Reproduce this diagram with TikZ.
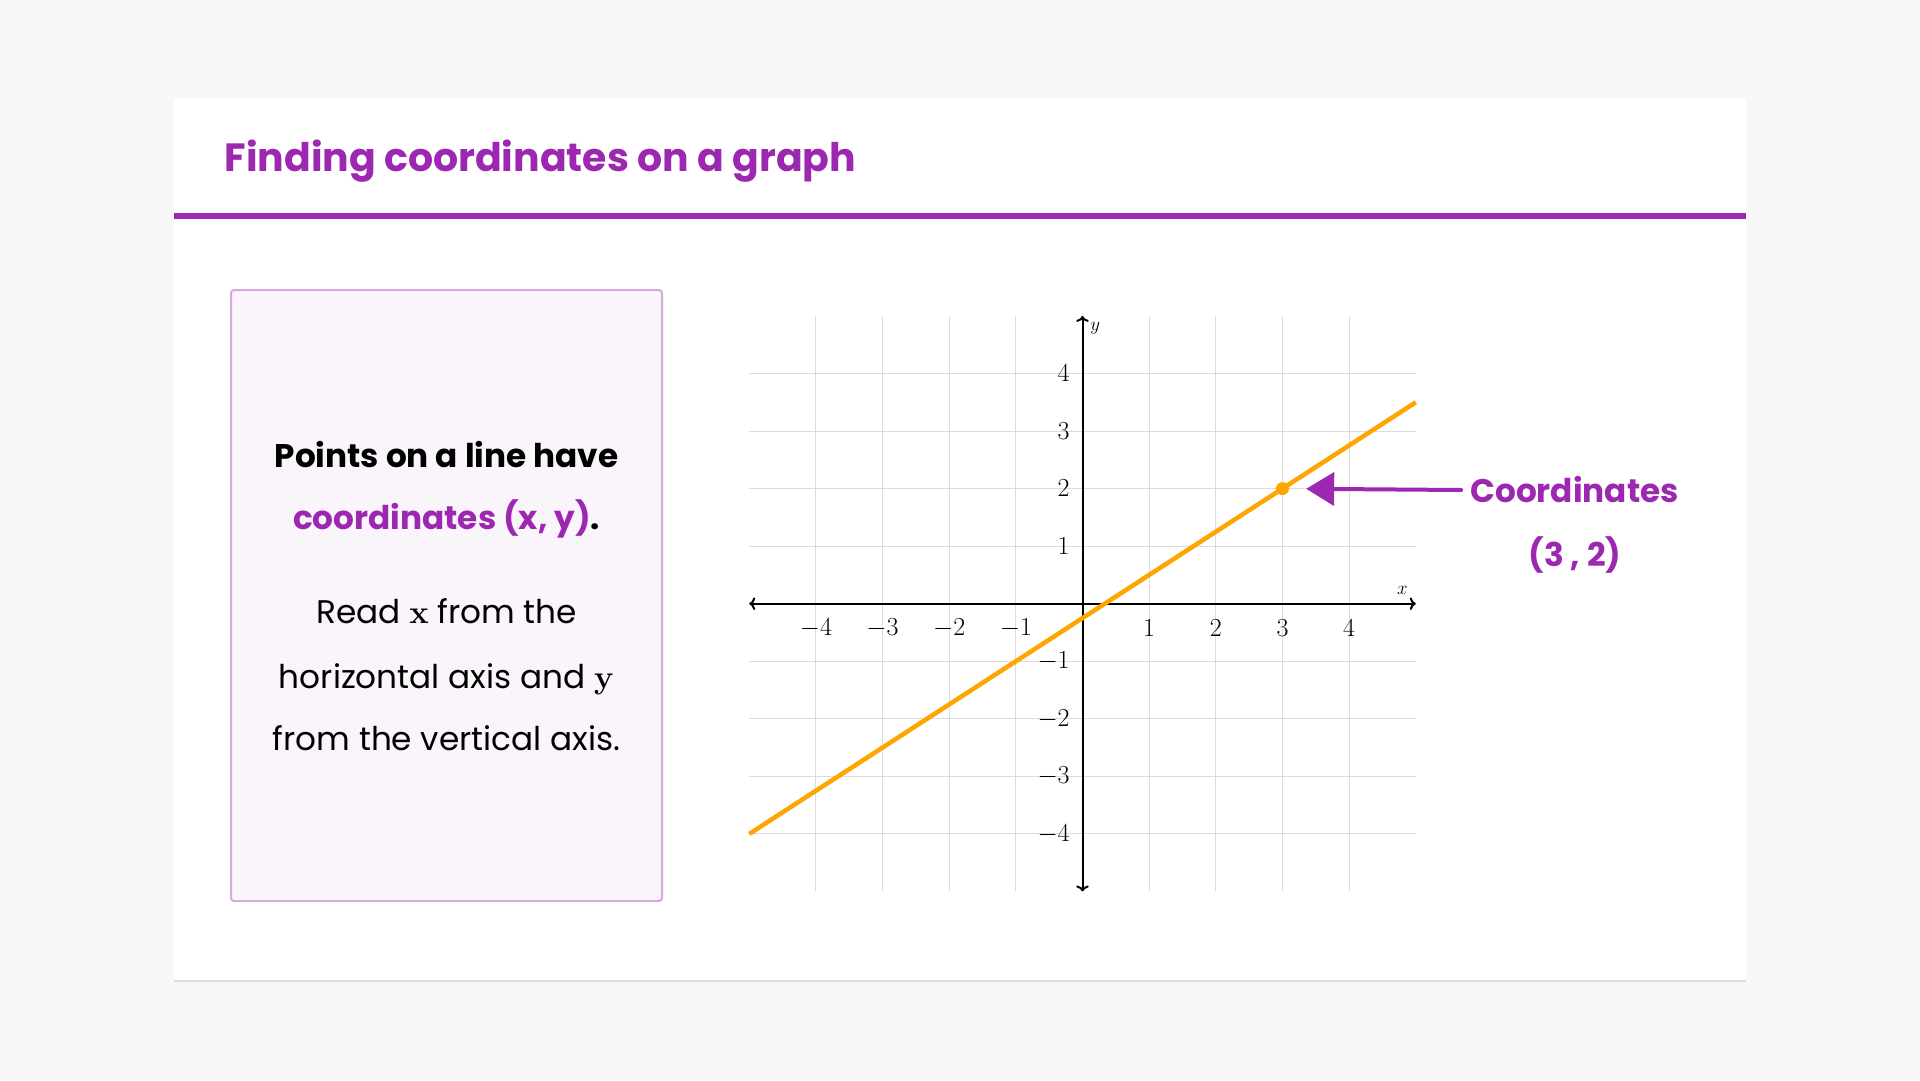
\documentclass[tikz,border=0pt]{standalone}
\usepackage{fix-cm}
\usepackage{amsmath}
\usepackage[no-math]{fontspec}
\setmainfont{Poppins}
\usetikzlibrary{arrows.meta}
\definecolor{purp}{HTML}{9C27B0}
\definecolor{lineorange}{HTML}{FFA500}
\definecolor{pagegray}{HTML}{F7F7F7}
\definecolor{gridgray}{HTML}{DCDCDC}
\tikzset{
  heading/.style={anchor=base west,text=purp,font=\fontsize{39.4}{47}\selectfont\bfseries},
  boxtext/.style={anchor=base,font=\fontsize{32.7}{40}\selectfont},
  calltext/.style={inner sep=9pt,text=purp,font=\fontsize{32.7}{40}\selectfont\bfseries},
  ticklbl/.style={inner sep=0pt,font=\fontsize{26}{31}\selectfont},
  axislbl/.style={inner sep=0pt,font=\fontsize{19}{23}\selectfont},
  gridline/.style={gridgray,line width=1pt},
  axisline/.style={black,line width=2pt,{To}-{To}},
  callarrow/.style={purp,line width=4pt,line cap=round,-{Triangle[length=28pt,width=33pt]}}
}

\begin{document}
\begin{tikzpicture}[x=1pt,y=-1pt]
\useasboundingbox[fill=pagegray] (0,0) rectangle (1920,1080);
\fill[black!14] (174,99) rectangle (1746,982);
\fill[white] (174,98) rectangle (1746,980);
\node (title) at (221,171) [heading] {Finding coordinates on a graph};
\draw [purp,line width=6pt] (174,216) -- (1746,216);
\draw [purp!40,fill=purp!5,line width=2pt,rounded corners=3pt] (231,290) rectangle (662,901);
\node (l1) at (446.5,467)[boxtext]{\bfseries Points on a line have};
\node (l2) at (446.5,529)[boxtext]{\bfseries\textcolor{purp}{coordinates (x, y)}.};
\node (l3) at (446.5,623)[boxtext]{Read $\mathbf{x}$ from the};
\node (l4) at (446.5,688)[boxtext]{horizontal axis and $\mathbf{y}$};
\node (l5) at (446.5,750)[boxtext]{from the vertical axis.};
\begin{scope}[xshift=1082.5pt,yshift=-603.7pt,x=66.65pt,y=57.55pt]
\foreach \g in {-4,...,4} {
  \draw [gridline] (\g,-5) -- (\g,5);
  \draw [gridline] (-5,\g) -- (5,\g);
}
\draw [axisline] (-5,0) -- (5,0);
\draw [axisline] (0,-5) -- (0,5);
\draw [lineorange,line width=4.5pt] (-5,-4) -- (5,3.5);
\node (pt) at (3,2)[circle,fill=lineorange,inner sep=0pt,minimum size=13pt]{};
\foreach \t in {-4,...,-1,1,2,3,4} {
  \node (xl\t) at (\t,-0.42)[ticklbl]{$\t$};
  \node (yl\t) at (-0.19,\t)[ticklbl,anchor=east]{$\t$};
}
\node (xname) at (4.8,0.23)[axislbl]{$x$};
\node (yname) at (0.19,4.78)[axislbl]{$y$};
\end{scope}
\node (coordlbl) at (1574.5,490)[calltext]{Coordinates};
\node (coordval) at (1575,555)[calltext]{(3 , 2)};
\draw [callarrow,shorten >=17pt] (coordlbl.west) -- (pt);
\end{tikzpicture}
\end{document}
